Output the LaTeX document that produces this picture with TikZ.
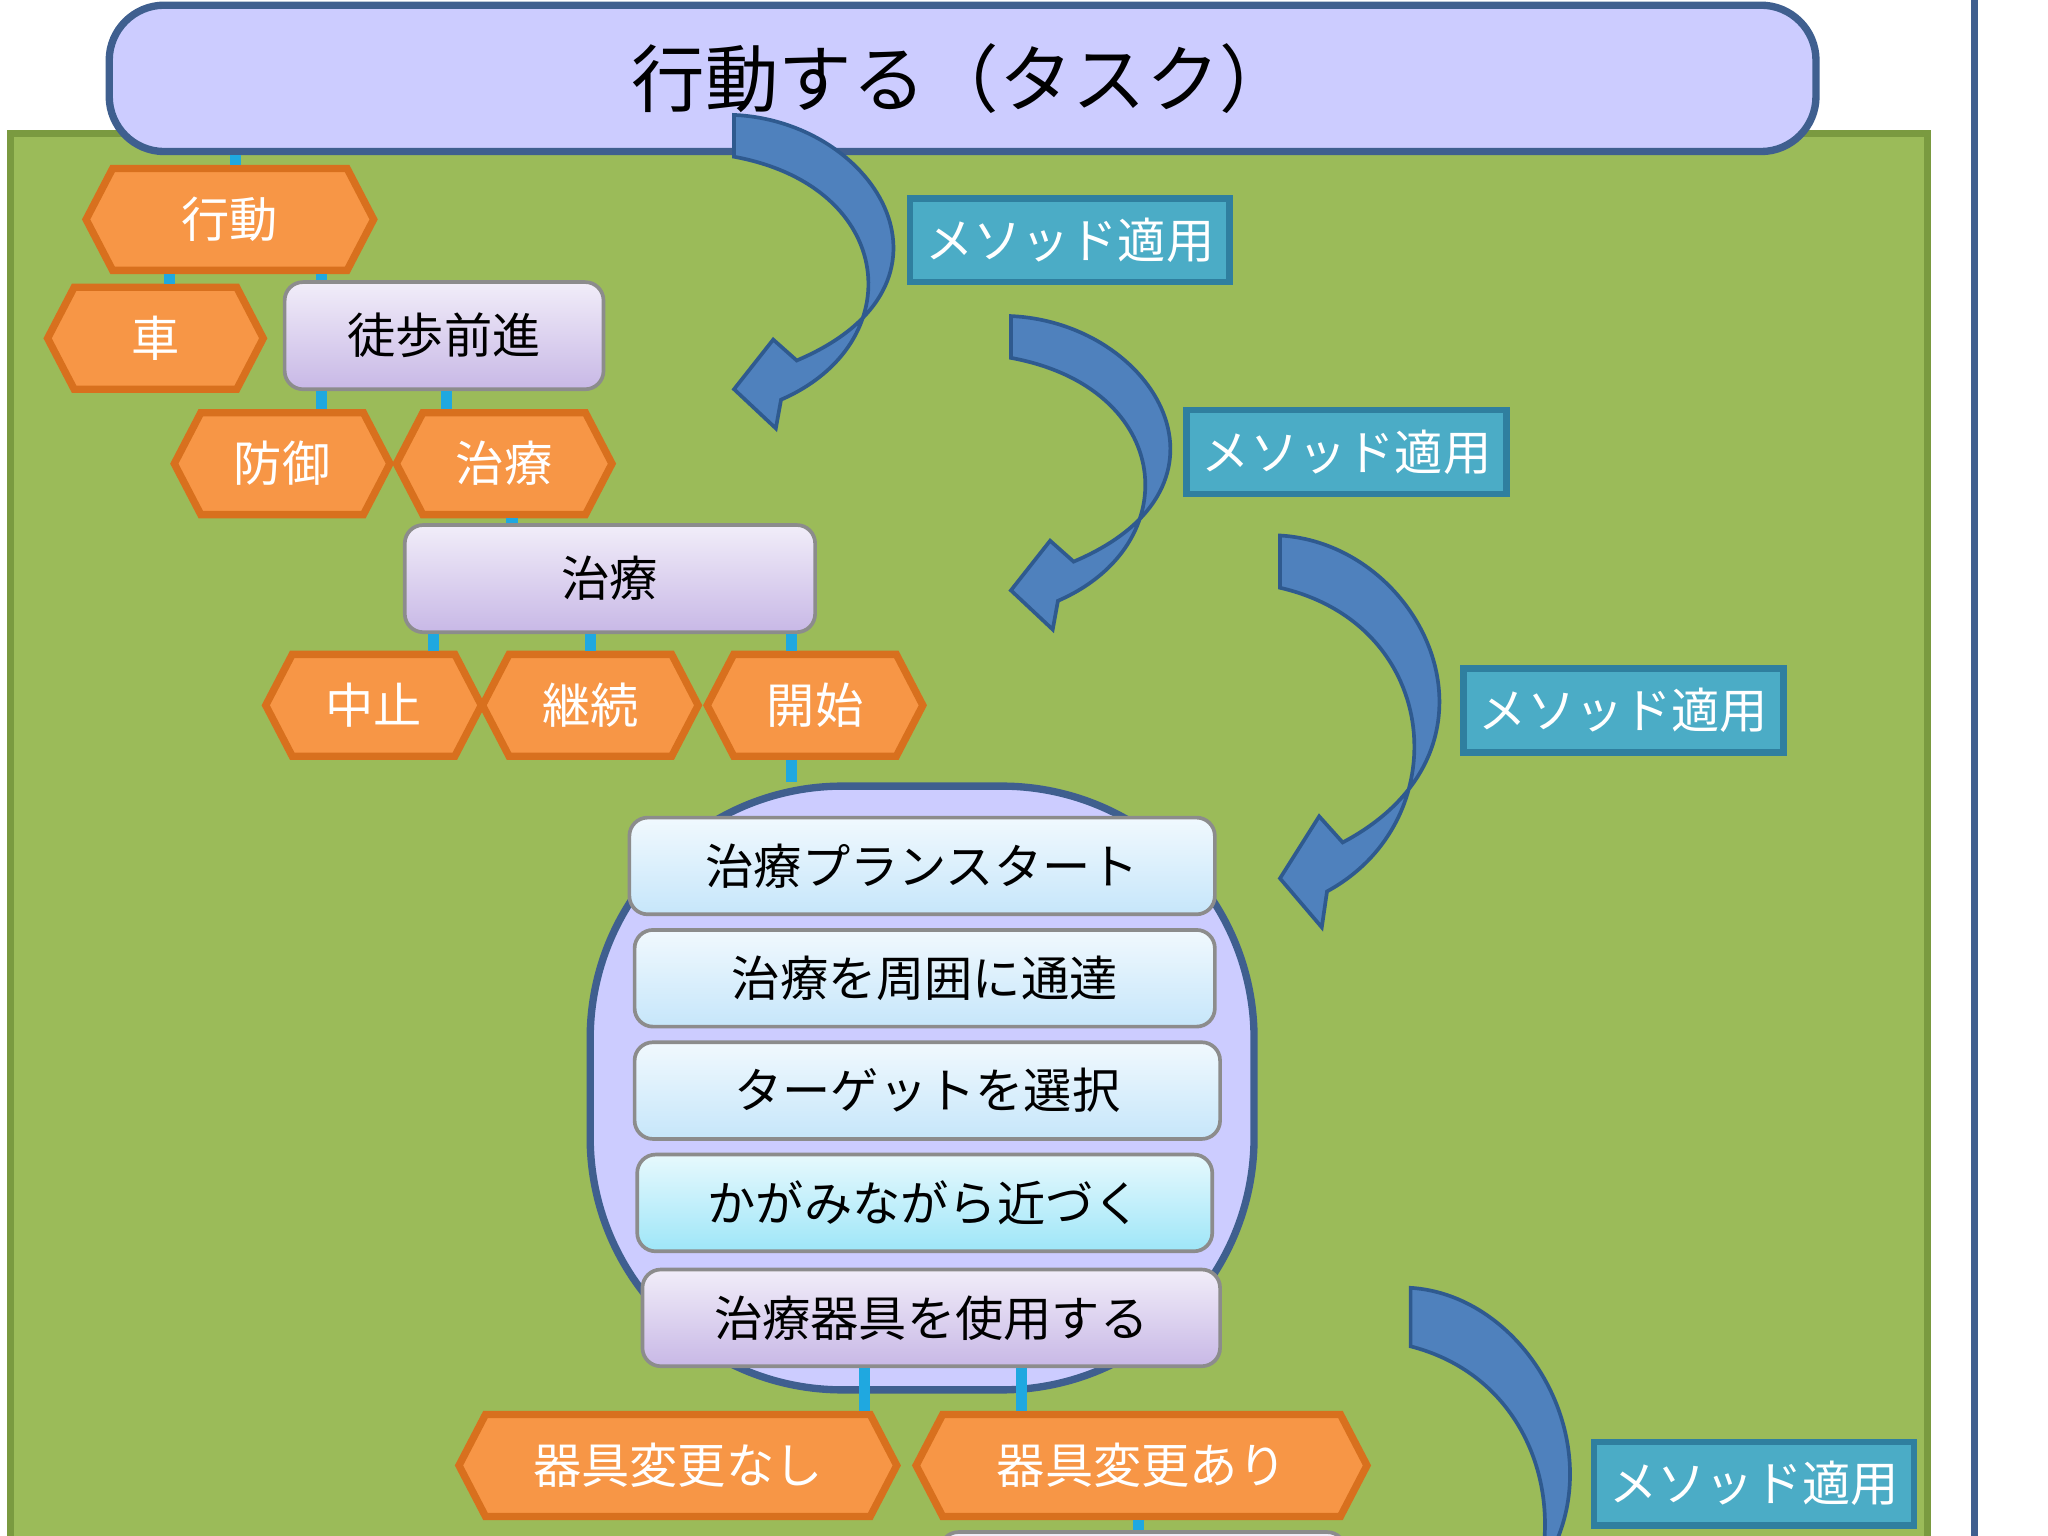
\documentclass[tikz,border=0pt]{standalone}
\usepackage{fontspec}
\setmainfont{Noto Sans CJK JP}
\usetikzlibrary{shapes.symbols,positioning,calc}
\definecolor{bggreen}{HTML}{9BBB59}
\definecolor{bgedge}{HTML}{7A9A40}
\definecolor{taskfill}{HTML}{CCCCFF}
\definecolor{taskedge}{HTML}{3F5F8F}
\definecolor{hexfill}{HTML}{F79646}
\definecolor{hexedge}{HTML}{D8701E}
\definecolor{tagfill}{HTML}{4BACC6}
\definecolor{tagedge}{HTML}{2F7F9F}
\definecolor{arrfill}{HTML}{4F81BD}
\definecolor{arredge}{HTML}{2F5A8F}
\definecolor{linkcol}{HTML}{1FA8E0}
\definecolor{lilac}{HTML}{C8B8E6}
\definecolor{skyblue}{HTML}{C6E6FA}
\definecolor{aqua}{HTML}{9EE6F8}
\tikzset{
  hexa/.style={signal, signal to=east and west, signal pointer angle=125,
    draw=hexedge, line width=1.6pt, fill=hexfill, text=white,
    minimum height=0.78cm, inner xsep=1pt, font=\fontsize{10.5}{10.5}\selectfont},
  plan/.style={draw=black!45, rounded corners=4pt, line width=0.8pt,
    top color=#1!25!white, bottom color=#1, font=\fontsize{10.5}{10.5}\selectfont,
    minimum height=0.78cm},
  tag/.style={draw=tagedge, line width=1.4pt, fill=tagfill, text=white,
    minimum width=2.3cm, minimum height=0.64cm, font=\fontsize{10.5}{10.5}\selectfont},
  link/.style={linkcol, line width=2.4pt},
}
\newcommand{\bentarrow}[3]{% x, y, vertical scale
  \begin{scope}[shift={(#1,#2)}, yscale=#3]
    \fill[arrfill, draw=arredge, line width=0.8pt]
      (0,0) .. controls (110,5) and (185,130) .. (48,188) -- (30,172) -- (0,210)
      -- (32,240) -- (36,218) .. controls (135,175) and (125,55) .. (0,32) -- cycle;
  \end{scope}}
\begin{document}
\begin{tikzpicture}[x=0.01cm, y=-0.01cm]
  \useasboundingbox (0,0) rectangle (1568,1176);
  \clip (0,0) rectangle (1568,1176);
  % background
  \fill[bggreen, draw=bgedge, line width=1.5pt] (8,102) rectangle (1476,1190);
  \draw[taskedge, line width=1.5pt] (1512,0) -- (1512,1176);
  % task
  \node[draw=taskedge, line width=1.6pt, fill=taskfill, rounded corners=12pt,
    minimum width=13.06cm, minimum height=1.12cm, font=\fontsize{16}{16}\selectfont]
    (task) at (737,60) {行動する（タスク）};
  % hexagons
  \node[hexa, minimum width=2.2cm] (act) at (176,168) {行動};
  \node[hexa, minimum width=1.65cm] (car) at (119,259) {車};
  \node[plan=lilac, minimum width=2.44cm, minimum height=0.82cm] (walk) at (340,257) {徒歩前進};
  \node[hexa, minimum width=1.65cm] (def) at (216,355) {防御};
  \node[hexa, minimum width=1.65cm] (heal) at (386,355) {治療};
  \node[plan=lilac, minimum width=3.14cm, minimum height=0.82cm] (healbox) at (467,443) {治療};
  \node[hexa, minimum width=1.65cm] (stop) at (286,540) {中止};
  \node[hexa, minimum width=1.65cm] (cont) at (452,540) {継続};
  \node[hexa, minimum width=1.65cm] (start) at (624,540) {開始};
  % plan container
  \node[draw=taskedge, line width=1.6pt, fill=taskfill, rounded corners=55pt,
    minimum width=5.08cm, minimum height=4.62cm] (plan) at (706,833) {};
  \node[plan=skyblue, minimum width=4.48cm, minimum height=0.74cm] (p1) at (706,663) {治療プランスタート};
  \node[plan=skyblue, minimum width=4.44cm, minimum height=0.74cm] (p2) at (708,749) {治療を周囲に通達};
  \node[plan=skyblue, minimum width=4.48cm, minimum height=0.74cm] (p3) at (710,835) {ターゲットを選択};
  \node[plan=aqua, minimum width=4.40cm, minimum height=0.74cm] (p4) at (708,921) {かがみながら近づく};
  \node[plan=lilac, minimum width=4.42cm, minimum height=0.74cm] (p5) at (713,1009) {治療器具を使用する};
  \node[hexa, minimum width=3.35cm] (nochg) at (519,1122) {器具変更なし};
  \node[hexa, minimum width=3.45cm] (chg) at (874,1122) {器具変更あり};
  \node[plan=lilac, minimum width=3.1cm, minimum height=0.74cm] (next) at (875,1210) {};
  % links
  \draw[link] (task.south -| 180,0) -- (act.north -| 180,0);
  \draw[link] ([xshift=-4.6mm]act.south) coordinate (c1) -- (c1 |- car.north);
  \draw[link] ([xshift=7mm]act.south) coordinate (c2) -- (c2 |- walk.north);
  \draw[link] ([xshift=-9.4mm]walk.south) coordinate (c3) -- (c3 |- def.north);
  \draw[link] ([xshift=0.2mm]walk.south) coordinate (c4) -- (c4 |- heal.north);
  \draw[link] ([xshift=0.6mm]heal.south) coordinate (c5) -- (c5 |- healbox.north);
  \draw[link] ([xshift=-13.5mm]healbox.south) coordinate (c6) -- (c6 |- stop.north);
  \draw[link] ([xshift=-1.5mm]healbox.south) coordinate (c7) -- (c7 |- cont.north);
  \draw[link] ([xshift=13.9mm]healbox.south) coordinate (c8) -- (c8 |- start.north);
  \draw[link] ([xshift=-1.8mm]start.south) coordinate (c9) -- (c9 |- plan.north);
  \draw[link] ([xshift=-5.1mm]p5.south) coordinate (c10) -- (c10 |- nochg.north);
  \draw[link] ([xshift=6.9mm]p5.south) coordinate (c11) -- (c11 |- chg.north);
  \draw[link] ([xshift=-0.2mm]chg.south) coordinate (c12) -- (c12 |- next.north);
  % method arrows
  \bentarrow{562}{88}{1}
  \bentarrow{774}{242}{1.0}
  \bentarrow{980}{410}{1.25}
  \bentarrow{1080}{986}{1.4}
  \node[tag] (m1) at (819,184) {メソッド適用};
  \node[tag] (m2) at (1031,346) {メソッド適用};
  \node[tag] (m3) at (1243,544) {メソッド適用};
  \node[tag] (m4) at (1343,1136) {メソッド適用};
\end{tikzpicture}
\end{document}
